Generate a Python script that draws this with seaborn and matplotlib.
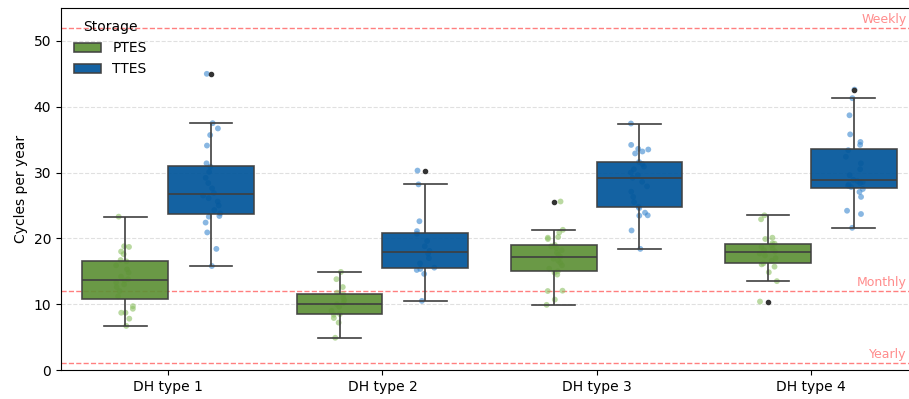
import numpy as np
import pandas as pd
import matplotlib
matplotlib.use("Agg")
import matplotlib.pyplot as plt
import seaborn as sns

dh_types = ["DH type 1", "DH type 2", "DH type 3", "DH type 4"]
storages = ["PTES", "TTES"]

# cycles per year
ptes_1 = [6.7, 7.8, 8.7, 8.7, 9.3, 9.7, 11.2, 12.0, 12.6, 13.0, 13.3, 13.6,
          13.8, 14.2, 14.8, 15.3, 15.9, 16.5, 16.7, 17.6, 18.0, 18.7, 18.8, 23.3]
ttes_1 = [15.8, 18.4, 20.9, 22.4, 23.3, 23.4, 23.8, 24.3, 25.0, 25.6, 26.1, 26.5,
          26.9, 27.6, 28.4, 29.2, 30.1, 30.9, 31.4, 34.1, 35.7, 36.7, 37.5, 45.0]
ptes_2 = [4.9, 7.2, 7.9, 8.4, 8.5, 9.0, 9.6, 10.0, 10.2, 10.6, 11.0, 11.5,
          11.75, 12.6, 13.8, 14.9]
ttes_2 = [10.5, 14.6, 15.2, 15.35, 15.55, 16.2, 17.0, 17.7, 18.1, 18.8, 19.6, 20.7,
          21.1, 22.6, 28.2, 30.3]
ptes_3 = [9.9, 10.7, 12.0, 12.05, 14.5, 14.8, 15.0, 15.4, 15.9, 16.3, 16.6, 16.9,
          17.2, 17.5, 17.8, 18.2, 18.5, 18.8, 19.0, 19.9, 20.1, 20.2, 20.9, 21.3, 25.6]
ttes_3 = [18.4, 21.2, 23.45, 23.5, 23.9, 24.6, 24.8, 25.5, 26.3, 27.1, 27.9, 28.6,
          29.2, 29.6, 30.0, 30.5, 30.9, 31.3, 31.6, 32.9, 33.2, 33.5, 33.6, 34.2, 37.45]
ptes_4 = [10.4, 13.5, 14.85, 15.7, 16.05, 16.2, 16.6, 17.0, 17.4, 17.7, 18.0, 18.2,
          18.4, 18.7, 18.95, 19.2, 19.25, 19.9, 20.1, 22.9, 23.5]
ttes_4 = [21.6, 23.7, 24.2, 26.3, 27.05, 27.5, 27.8, 28.0, 28.2, 28.4, 28.55, 28.7,
          28.9, 29.6, 30.5, 31.4, 32.4, 33.4, 34.2, 34.65, 35.8, 38.7, 41.3, 42.6]

ref_lines = [52, 12, 1]
ref_labels = ["Weekly", "Monthly", "Yearly"]

box_colors = {"PTES": "#5d9136", "TTES": "#00559a"}
dot_colors = {"PTES": "#8cc063", "TTES": "#3b88cf"}

rows = []
series = {("DH type 1", "PTES"): ptes_1, ("DH type 1", "TTES"): ttes_1,
          ("DH type 2", "PTES"): ptes_2, ("DH type 2", "TTES"): ttes_2,
          ("DH type 3", "PTES"): ptes_3, ("DH type 3", "TTES"): ttes_3,
          ("DH type 4", "PTES"): ptes_4, ("DH type 4", "TTES"): ttes_4}
for (dh, st), vals in series.items():
    for v in vals:
        rows.append({"DH": dh, "Storage": st, "Cycles": v})
df = pd.DataFrame(rows)

np.random.seed(3)
fig = plt.figure(figsize=(9.09, 3.99), dpi=100)
ax = fig.add_axes([61 / 909, 29 / 399, 857 / 909, 362 / 399])

sns.stripplot(data=df, x="DH", y="Cycles", hue="Storage", order=dh_types,
              hue_order=storages, palette=dot_colors, dodge=True, jitter=0.09,
              size=4.2, alpha=0.6, legend=False, ax=ax)
n_strip = len(ax.collections)
sns.boxplot(data=df, x="DH", y="Cycles", hue="Storage", order=dh_types,
            hue_order=storages, palette=box_colors, saturation=1,
            linecolor="#3f3f3f", linewidth=1.2,
            flierprops=dict(marker="o", markersize=3, markerfacecolor="#333333",
                            markeredgecolor="#333333"),
            ax=ax)

# seaborn puts the strip points at zorder 3; push them under the boxes
for c in ax.collections[:n_strip]:
    c.set_zorder(1.5)
for p in ax.patches:
    p.set_zorder(2)
    p.set_alpha(0.92)
for ln in ax.lines:
    ln.set_zorder(2.5)

for y, lab in zip(ref_lines, ref_labels):
    ax.axhline(y, color="red", ls="--", lw=1, alpha=0.5, zorder=1)
    ax.text(3.448, y + 0.3, lab, color="red", alpha=0.45, fontsize=9,
            ha="right", va="bottom")

ax.set_ylim(0, 55)
ax.set_xlim(-0.5, 3.5)
ax.set_yticks([0, 10, 20, 30, 40, 50])
ax.grid(axis="y", ls="--", color="#cccccc", alpha=0.6, lw=0.8)
ax.set_axisbelow(True)
ax.set_xlabel("")
ax.set_ylabel("Cycles per year")
ax.legend(title="Storage", loc="upper left", frameon=False)

fig.savefig("out.png", dpi=100)
